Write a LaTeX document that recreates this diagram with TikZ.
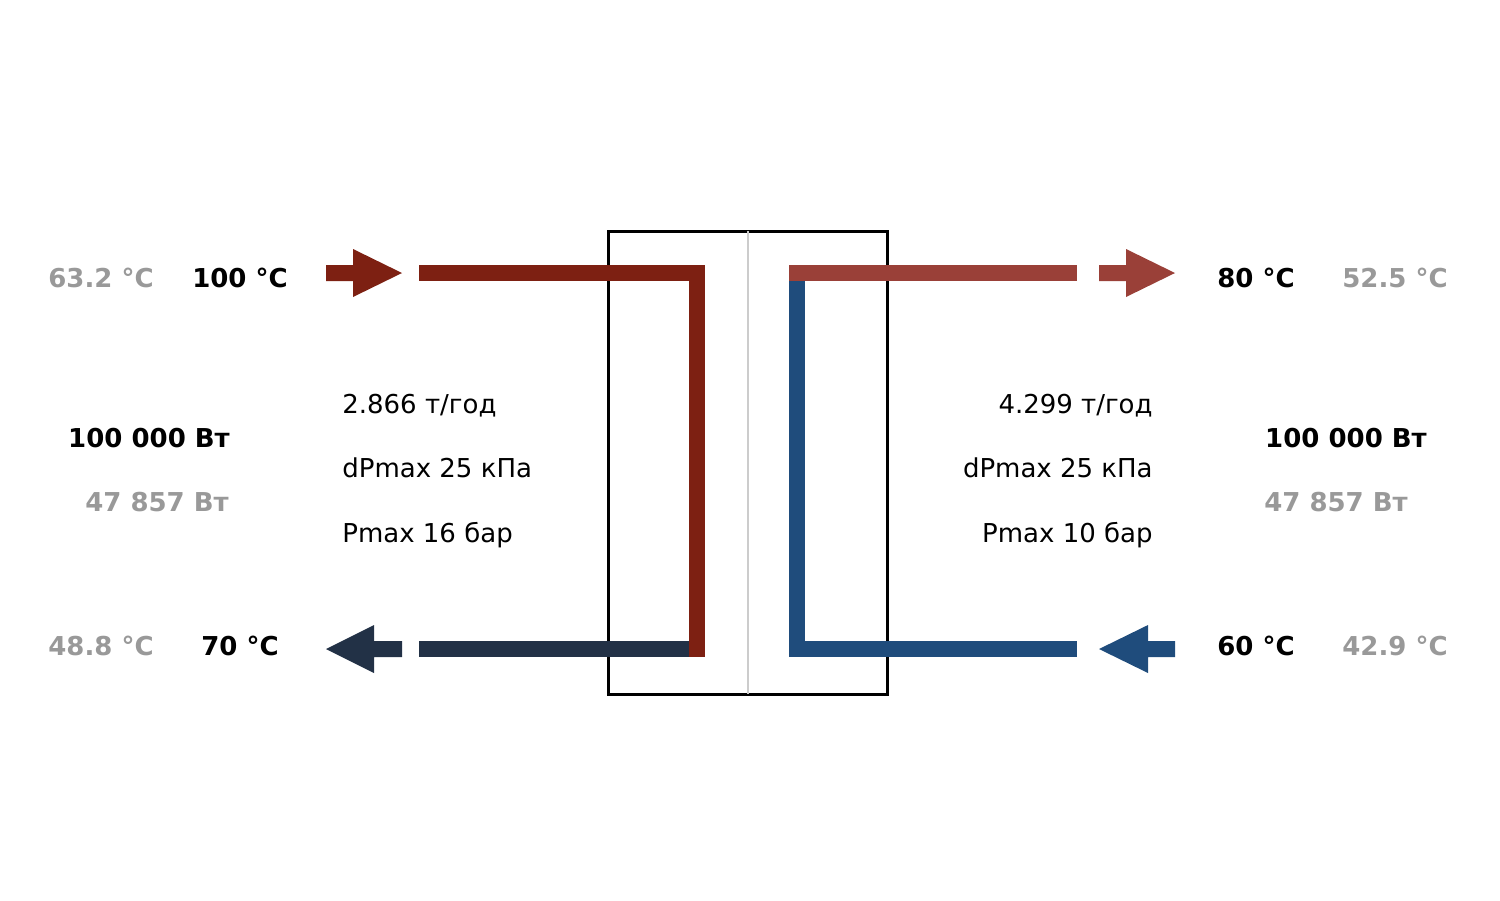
\documentclass[tikz,border=0pt]{standalone}
\usepackage{fontspec}
\setmainfont{DejaVu Sans}
\definecolor{hotin}{RGB}{125,32,18}
\definecolor{hotout}{RGB}{154,64,56}
\definecolor{coldout}{RGB}{34,49,70}
\definecolor{coldin}{RGB}{31,76,124}
\definecolor{faded}{RGB}{153,153,153}
\tikzset{
  pipe/.style={line width=9.07pt, line cap=butt, line join=miter},
  temp/.style={font=\fontsize{14.8}{17}\selectfont\bfseries, anchor=base, inner sep=0pt},
  param/.style={font=\fontsize{14.8}{17}\selectfont, anchor=base west, inner sep=0pt},
}
\begin{document}
\begin{tikzpicture}[x=0.02cm, y=-0.02cm]

\useasboundingbox (0,0) rectangle (1500,900);

% exchanger body
\draw[line width=1.7pt] (608,231) rectangle (887,694);
\draw[black!20, line width=1.1pt] (748,231) -- (748,694);

% hot side pipes
\draw[pipe, coldout] (419,649) -- (689,649);
\draw[pipe, hotin] (419,273) -- (697,273) -- (697,657);

% cold side pipes
\draw[pipe, coldin] (797,281) -- (797,649) -- (1077,649);
\draw[pipe, hotout] (789,273) -- (1077,273);

% flow arrows
\foreach \xa/\xb/\xc/\y/\col in {326/353/402/273/hotin, 1099/1126/1175/273/hotout,
                                 402/374/326/649/coldout, 1175/1148/1099/649/coldin}{
    \fill[\col] (\xa,\y-8) -- (\xb,\y-8) -- (\xb,\y-24) -- (\xc,\y)
        -- (\xb,\y+24) -- (\xb,\y+8) -- (\xa,\y+8) -- cycle;
}

% temperatures
\node[temp, faded] (tHinGray) at (101,287) {63.2 °C};
\node[temp] (tHin) at (240,287) {100 °C};
\node[temp, faded] (tHoutGray) at (101,655) {48.8 °C};
\node[temp] (tHout) at (240,655) {70 °C};
\node[temp] (tCout) at (1256,287) {80 °C};
\node[temp, faded] (tCoutGray) at (1395,287) {52.5 °C};
\node[temp] (tCin) at (1256,655) {60 °C};
\node[temp, faded] (tCinGray) at (1395,655) {42.9 °C};

% power
\node[temp] (powHot) at (149,447) {100 000 Вт};
\node[temp, faded] (powHotGray) at (157,511) {47 857 Вт};
\node[temp] (powCold) at (1346,447) {100 000 Вт};
\node[temp, faded] (powColdGray) at (1336,511) {47 857 Вт};

% hot side data
\node[param] (flowHot) at (342,413) {2.866 т/год};
\node[param] (dpHot) at (342,477) {dPmax 25 кПа};
\node[param] (pHot) at (342,542) {Pmax 16 бар};

% cold side data
\node[param, anchor=base east] (flowCold) at (1153,413) {4.299 т/год};
\node[param, anchor=base east] (dpCold) at (1153,477) {dPmax 25 кПа};
\node[param, anchor=base east] (pCold) at (1153,542) {Pmax 10 бар};

\end{tikzpicture}
\end{document}
